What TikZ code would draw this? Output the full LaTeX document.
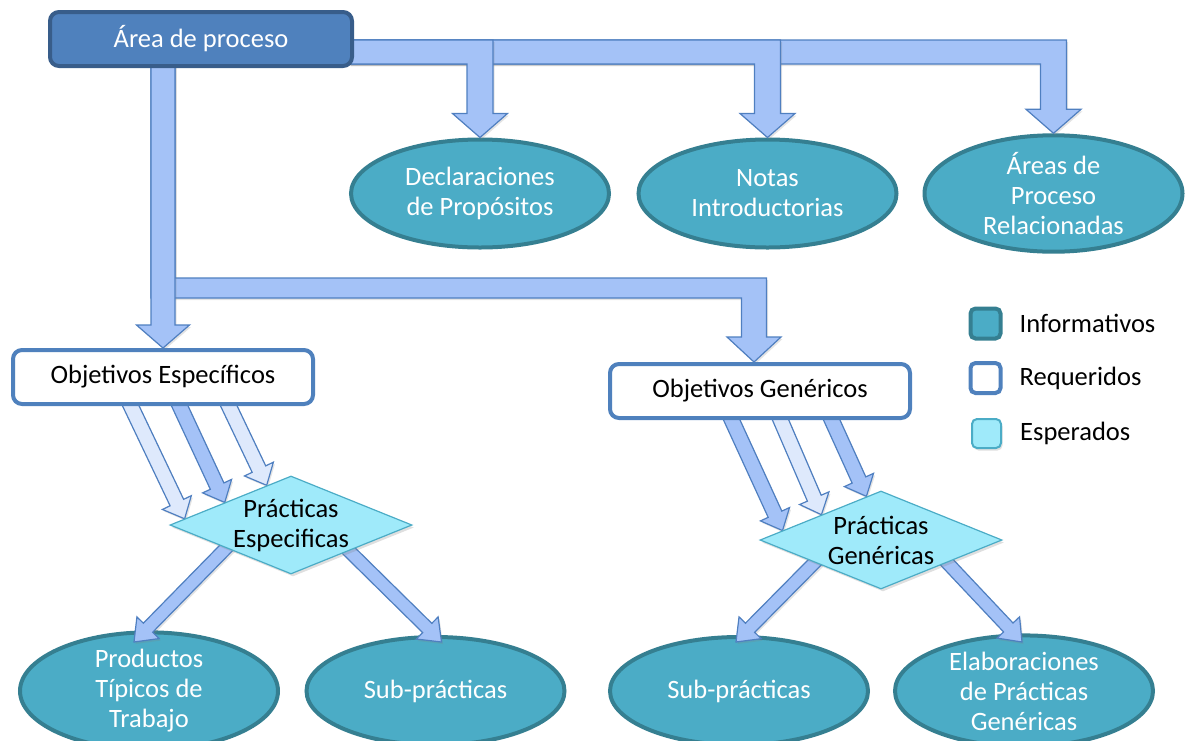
\documentclass[tikz,border=0pt]{standalone}
\usepackage{fontspec}
\setmainfont{Carlito}
\usetikzlibrary{shapes.geometric,calc,shadows}

\definecolor{hdrfill}{HTML}{4F81BD}
\definecolor{hdrline}{HTML}{385D8A}
\definecolor{arrfill}{HTML}{A4C2F7}
\definecolor{arrpale}{HTML}{DEE9FC}
\definecolor{arrline}{HTML}{4F7FC0}
\definecolor{infofill}{HTML}{4BACC6}
\definecolor{infoline}{HTML}{357F91}
\definecolor{expfill}{HTML}{9FEAFA}
\definecolor{expline}{HTML}{4BACC6}
\definecolor{reqline}{HTML}{4F81BD}

\pgfdeclarelayer{back}
\pgfdeclarelayer{mid}
\pgfsetlayers{back,mid,main}

\tikzset{
  lbl/.style={font=\fontsize{26.5}{30}\selectfont, align=center},
  hdr/.style={lbl, rectangle, rounded corners=9pt, draw=hdrline, fill=hdrfill, line width=4pt,
    minimum width=302pt, minimum height=54pt, text=white},
  info/.style={lbl, ellipse, draw=infoline, fill=infofill, line width=4pt,
    minimum width=258pt, minimum height=108pt, inner sep=0pt, text=white},
  req/.style={lbl, rectangle, rounded corners=9pt, draw=reqline, fill=white, line width=4pt,
    minimum width=300pt, minimum height=54pt, text=black},
  expct/.style={diamond, draw=expline, fill=expfill, line width=1.2pt,
    minimum width=242pt, minimum height=98pt, inner sep=0pt,
    drop shadow={shadow xshift=2pt, shadow yshift=-2.5pt, opacity=0.25}},
  legbox/.style={rectangle, rounded corners=5pt, minimum size=30pt, inner sep=0pt},
  legtext/.style={font=\fontsize{26.5}{30}\selectfont, anchor=west, inner sep=0pt, text=black},
  arr/.style={fill=arrfill, draw=arrline, line width=1.2pt, line join=miter,
    drop shadow={shadow xshift=1.5pt, shadow yshift=-2pt, opacity=0.22}},
  pale/.style={arr, fill=arrpale},
}

% block arrow: [style]{start}{tip}{half shaft}{half head}{head length}
\newcommand\blockarrow[6][arr]{%
  \coordinate (ba-h) at ($(#3)!#6!(#2)$);
  \draw[#1] ($(#2)!#4!90:(#3)$) -- ($(ba-h)!#4!90:(#3)$) -- ($(ba-h)!#5!90:(#3)$)
    -- (#3) -- ($(ba-h)!#5!-90:(#3)$) -- ($(ba-h)!#4!-90:(#3)$)
    -- ($(#2)!#4!-90:(#3)$) -- cycle;}

% bent arrow from the header bar down to a node
\newcommand\topbent[1]{%
  \draw[arr] let \p1=(ap.east), \p2=(#1.north) in
    (\x1-5pt,\y1-1pt) -- (\x2+13pt,\y1-1pt) -- (\x2+13pt,\y2+24pt)
    -- (\x2+27.5pt,\y2+24pt) -- (\p2) -- (\x2-27.5pt,\y2+24pt)
    -- (\x2-13pt,\y2+24pt) -- (\x2-13pt,\y1-25pt) -- (\x1-5pt,\y1-25pt) -- cycle;}

\begin{document}
\begin{tikzpicture}[x=1pt,y=-1pt]
\useasboundingbox (0,0) rectangle (1189,740);

% informative items
\begin{pgfonlayer}{back}
\node[info] (decl)  at (480,193.5)  {Declaraciones\\de Propósitos};
\node[info] (notas) at (767.5,193.5) {Notas\\Introductorias};
\node[info] (areas) at (1053.5,193.5) {Áreas de\\Proceso\\Relacionadas};
\node[info] (prod)  at (149,691)    {Productos\\Típicos de\\Trabajo};
\node[info] (sub1)  at (435.5,691)  {Sub-prácticas};
\node[info] (sub2)  at (739,691)    {Sub-prácticas};
\node[info] (elab)  at (1024,691)   {Elaboraciones\\de Prácticas\\Genéricas};
\end{pgfonlayer}

% header, required and expected items
\node[hdr] (ap) at (201,39) {Área de proceso};
\node[req] (oe) at (163,377) {Objetivos Específicos};
\node[req] (og) at (760,391) {Objetivos Genéricos};
\node[expct] (pe) at (291,525) {};
\node[lbl, text=black] (pet) at (pe.center) {Prácticas\\Especificas};
\node[expct] (pg) at (881,540) {};
\node[lbl, text=black] (pgt) at (pg.center) {Prácticas\\Genéricas};

% legend
\node[legbox, draw=infoline, fill=infofill, line width=4pt] (lg1) at (985.5,323.5) {};
\node[legbox, draw=reqline, fill=white, line width=4pt] (lg2) at (985.5,378) {};
\node[legbox, draw=expline, fill=expfill, line width=2pt, minimum size=29pt,
  drop shadow={shadow xshift=1.5pt, shadow yshift=-2.5pt, opacity=0.25}] (lg3) at (986.5,433.5) {};
\node[legtext] (lt1) at ($(lg1.east)+(17,0)$) {Informativos};
\node[legtext] (lt2) at ($(lg2.east)+(17,0)$) {Requeridos};
\node[legtext] (lt3) at ($(lg3.east)+(18,0)$) {Esperados};

% anchor points of the connectors
\coordinate (oe1) at ($(oe.south)+(-35,-6)$);
\coordinate (oe2) at ($(oe.south)+(14,-6)$);
\coordinate (oe3) at ($(oe.south)+(63,-6)$);
\coordinate (pe1) at ($(pe.west)!0.125!(pe.north)$);
\coordinate (pe2) at ($(pe.west)!0.455!(pe.north)$);
\coordinate (pe3) at ($(pe.west)!0.80!(pe.north)$);
\coordinate (og1) at ($(og.south)+(-31,-6)$);
\coordinate (og2) at ($(og.south)+(18,-6)$);
\coordinate (og3) at ($(og.south)+(69,-6)$);
\coordinate (pg1) at ($(pg.west)!0.19!(pg.north)$);
\coordinate (pg2) at ($(pg.west)!0.51!(pg.north)$);
\coordinate (pg3) at ($(pg.west)!0.88!(pg.north)$);
\coordinate (peL) at ($(pe.center)+(-60,18)$);
\coordinate (peR) at ($(pe.center)+(52,20)$);
\coordinate (pgL) at ($(pg.center)+(-61,17)$);
\coordinate (pgR) at ($(pg.center)+(59,15)$);
\coordinate (prodT) at ($(prod.center)+(-15,-49)$);
\coordinate (sub1T) at ($(sub1.center)+(6,-49)$);
\coordinate (sub2T) at ($(sub2.center)+(-3,-49)$);
\coordinate (elabT) at ($(elab.center)+(-2,-49)$);

\begin{pgfonlayer}{mid}
% header to informative items
\topbent{areas}
\topbent{notas}
\topbent{decl}
% header down and across to the generic objectives
\draw[arr] let \p1=(ap.south), \p2=(oe.north), \p3=([xshift=-6pt]og.north) in
  (\x2-12pt,\y1+5pt) -- (\x2+12pt,\y1+5pt) -- (\x2+12pt,\y2+70pt)
  -- (\x3+12.5pt,\y2+70pt) -- (\x3+12.5pt,\y3+25pt) -- (\x3+27pt,\y3+25pt)
  -- (\p3) -- (\x3-27pt,\y3+25pt) -- (\x3-12.5pt,\y3+25pt)
  -- (\x3-12.5pt,\y2+50pt) -- (\x2-12pt,\y2+50pt) -- cycle;
% header straight down to the specific objectives
\draw[arr] let \p1=(ap.south), \p2=(oe.north) in
  (\x2-12pt,\y1+5pt) -- (\x2+12pt,\y1+5pt) -- (\x2+12pt,\y2+23pt) -- (\x2+26.5pt,\y2+23pt)
  -- (\p2) -- (\x2-26.5pt,\y2+23pt) -- (\x2-12pt,\y2+23pt) -- cycle;
% objectives to practices
\blockarrow[pale]{oe1}{pe1}{7.5pt}{16pt}{18pt}
\blockarrow{oe2}{pe2}{7.5pt}{16pt}{18pt}
\blockarrow[pale]{oe3}{pe3}{7.5pt}{16pt}{18pt}
\blockarrow{og1}{pg1}{7.5pt}{16pt}{18pt}
\blockarrow[pale]{og2}{pg2}{7.5pt}{16pt}{18pt}
\blockarrow{og3}{pg3}{7.5pt}{16pt}{18pt}
% practices to their parts
\blockarrow{peL}{prodT}{6.5pt}{15.5pt}{20pt}
\blockarrow{peR}{sub1T}{6.5pt}{15.5pt}{20pt}
\blockarrow{pgL}{sub2T}{6.5pt}{15.5pt}{20pt}
\blockarrow{pgR}{elabT}{6.5pt}{15.5pt}{20pt}
\end{pgfonlayer}
\end{tikzpicture}
\end{document}
